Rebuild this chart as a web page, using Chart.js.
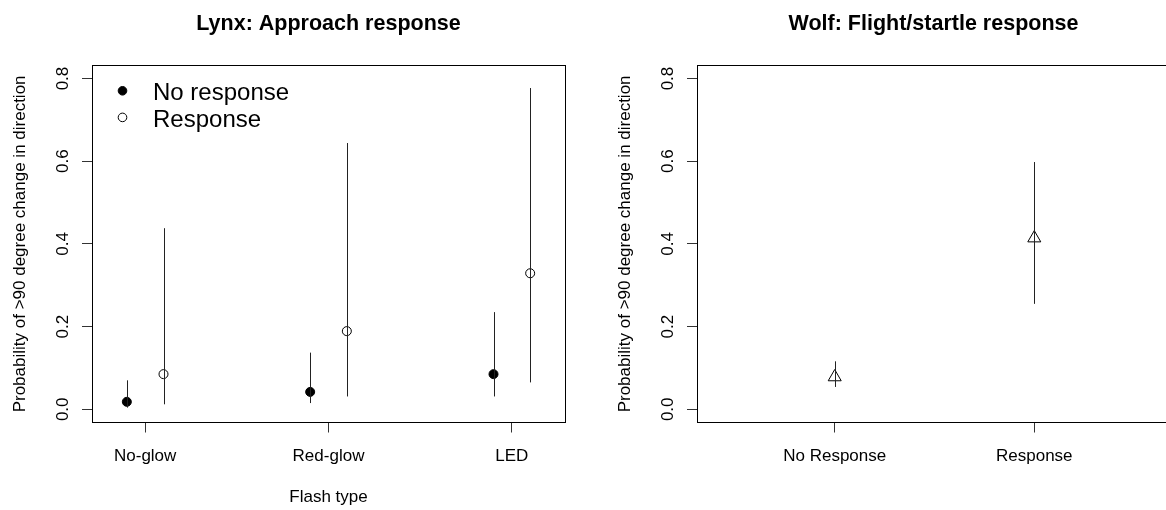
<!DOCTYPE html>
<html>
<head>
<meta charset="utf-8">
<script src="https://cdn.jsdelivr.net/npm/chart.js@4/dist/chart.umd.min.js"></script>
<style>
  html, body { margin: 0; padding: 0; background: #fff; }
  body { width: 1166px; height: 510px; overflow: hidden; position: relative; }
  canvas { position: absolute; top: 0; }
  #lynx { left: 0; }
  #wolf { left: 605px; }
</style>
</head>
<body>
<canvas id="lynx" width="580" height="510"></canvas>
<canvas id="wolf" width="580" height="510"></canvas>
<script>
// values (probability of >90 degree change in direction)
const lynxCategories = ['No-glow', 'Red-glow', 'LED'];
const lynxNoResp = [0.018, 0.042, 0.085];
const lynxNoRespLo = [0.004, 0.015, 0.031];
const lynxNoRespHi = [0.070, 0.137, 0.235];
const lynxResp = [0.085, 0.189, 0.329];
const lynxRespLo = [0.012, 0.031, 0.065];
const lynxRespHi = [0.438, 0.644, 0.777];

const wolfCategories = ['No Response', 'Response'];
const wolfProb = [0.078, 0.414];
const wolfLo = [0.054, 0.255];
const wolfHi = [0.116, 0.598];

const yTicks = [0, 0.2, 0.4, 0.6, 0.8];
const legendLabels = ['No response', 'Response'];

const FONT = '"Liberation Sans", Arial, Helvetica, sans-serif';
const dodge = 0.1;

// whiskers, drawn on top of the points like R's arrows()/segments()
const errorBars = {
  id: 'errorBars',
  afterDatasetsDraw(chart) {
    const {ctx, scales: {x, y}} = chart;
    ctx.save();
    ctx.strokeStyle = '#222';
    ctx.lineWidth = 1;
    chart.data.datasets.forEach((ds) => {
      if (!ds.lo) return;
      ds.data.forEach((p, i) => {
        const px = Math.round(x.getPixelForValue(p.x)) + 0.5;
        ctx.beginPath();
        ctx.moveTo(px, y.getPixelForValue(ds.lo[i]));
        ctx.lineTo(px, y.getPixelForValue(ds.hi[i]));
        ctx.stroke();
      });
    });
    ctx.restore();
  }
};

const plotBox = {
  id: 'plotBox',
  afterDraw(chart) {
    const {ctx, chartArea: a} = chart;
    ctx.save();
    ctx.strokeStyle = '#000';
    ctx.lineWidth = 1;
    ctx.strokeRect(Math.round(a.left) + 0.5, Math.round(a.top) + 0.5,
      Math.round(a.right - a.left), Math.round(a.bottom - a.top));
    ctx.restore();
  }
};

// legend in the top left corner of the plot, like R's legend("topleft", bty = "n")
const insideLegend = {
  id: 'insideLegend',
  afterDraw(chart, args, opts) {
    if (!opts.show) return;
    const {ctx, chartArea: a} = chart;
    ctx.save();
    ctx.font = '24px ' + FONT;
    ctx.textBaseline = 'middle';
    ctx.fillStyle = '#000';
    chart.data.datasets.forEach((ds, i) => {
      const cy = a.top + 25.5 + i * 26.6;
      const cx = a.left + 30.5;
      ctx.beginPath();
      ctx.arc(cx, cy, 4.3, 0, Math.PI * 2);
      ctx.fillStyle = ds.backgroundColor;
      ctx.fill();
      ctx.strokeStyle = '#000';
      ctx.lineWidth = 1;
      ctx.stroke();
      ctx.fillStyle = '#000';
      ctx.fillText(opts.labels[i], a.left + 61, cy + 3);
    });
    ctx.restore();
  }
};

function panelOptions(title, categories, xMin, xMax, xTitle) {
  return {
    responsive: false,
    animation: false,
    devicePixelRatio: 1,
    layout: { padding: { left: 0, right: 15, top: 0, bottom: 0 } },
    plugins: {
      legend: { display: false },
      tooltip: { enabled: false },
      title: {
        display: true,
        text: title,
        fullSize: false,
        color: '#000',
        font: { family: FONT, size: 21.5, weight: 'bold' },
        padding: { top: 11, bottom: 28.5 },
      },
    },
    scales: {
      x: {
        type: 'linear',
        min: xMin,
        max: xMax,
        afterBuildTicks: (s) => { s.ticks = categories.map((c, i) => ({ value: i + 1 })); },
        afterFit: (s) => { s.height = 87.5; },
        ticks: {
          autoSkip: false,
          maxRotation: 0,
          padding: 14,
          color: '#000',
          font: { family: FONT, size: 17 },
          callback: (v, i) => categories[i],
        },
        grid: { drawOnChartArea: false, drawTicks: true, tickLength: 10, color: '#333' },
        border: { display: false },
        title: {
          display: !!xTitle,
          text: xTitle || '',
          color: '#000',
          font: { family: FONT, size: 17 },
          padding: { top: 0, bottom: 2.5 },
        },
      },
      y: {
        min: -0.032,
        max: 0.832,
        afterBuildTicks: (s) => { s.ticks = yTicks.map((v) => ({ value: v })); },
        afterFit: (s) => { s.width = 92; },
        ticks: {
          autoSkip: false,
          minRotation: 90,
          maxRotation: 90,
          crossAlign: 'center',
          padding: 7,
          color: '#000',
          font: { family: FONT, size: 17 },
          callback: (v) => v.toFixed(1),
        },
        grid: { drawOnChartArea: false, drawTicks: true, tickLength: 10, color: '#333' },
        border: { display: false },
        title: {
          display: true,
          text: 'Probability of >90 degree change in direction',
          color: '#000',
          font: { family: FONT, size: 17 },
          padding: { top: 10, bottom: 0 },
        },
      },
    },
  };
}

const lynxOptions = panelOptions('Lynx: Approach response', lynxCategories, 0.71, 3.29, 'Flash type');
lynxOptions.plugins.insideLegend = { show: true, labels: legendLabels };

new Chart(document.getElementById('lynx'), {
  type: 'scatter',
  data: {
    datasets: [
      {
        label: legendLabels[0],
        data: lynxCategories.map((c, i) => ({ x: i + 1 - dodge, y: lynxNoResp[i] })),
        lo: lynxNoRespLo,
        hi: lynxNoRespHi,
        pointStyle: 'circle',
        pointRadius: 4.5,
        backgroundColor: '#000',
        borderColor: '#000',
        borderWidth: 1,
      },
      {
        label: legendLabels[1],
        data: lynxCategories.map((c, i) => ({ x: i + 1 + dodge, y: lynxResp[i] })),
        lo: lynxRespLo,
        hi: lynxRespHi,
        pointStyle: 'circle',
        pointRadius: 4.5,
        backgroundColor: '#fff',
        borderColor: '#000',
        borderWidth: 1,
      },
    ],
  },
  options: lynxOptions,
  plugins: [errorBars, plotBox, insideLegend],
});

const wolfOptions = panelOptions('Wolf: Flight/startle response', wolfCategories, 0.31, 2.68, '');
wolfOptions.plugins.insideLegend = { show: false };

new Chart(document.getElementById('wolf'), {
  type: 'scatter',
  data: {
    datasets: [
      {
        label: 'Wolf',
        data: wolfCategories.map((c, i) => ({ x: i + 1, y: wolfProb[i] })),
        lo: wolfLo,
        hi: wolfHi,
        pointStyle: 'triangle',
        pointRadius: 7.5,
        backgroundColor: 'rgba(0,0,0,0)',
        borderColor: '#000',
        borderWidth: 1,
      },
    ],
  },
  options: wolfOptions,
  plugins: [errorBars, plotBox, insideLegend],
});
</script>
</body>
</html>
